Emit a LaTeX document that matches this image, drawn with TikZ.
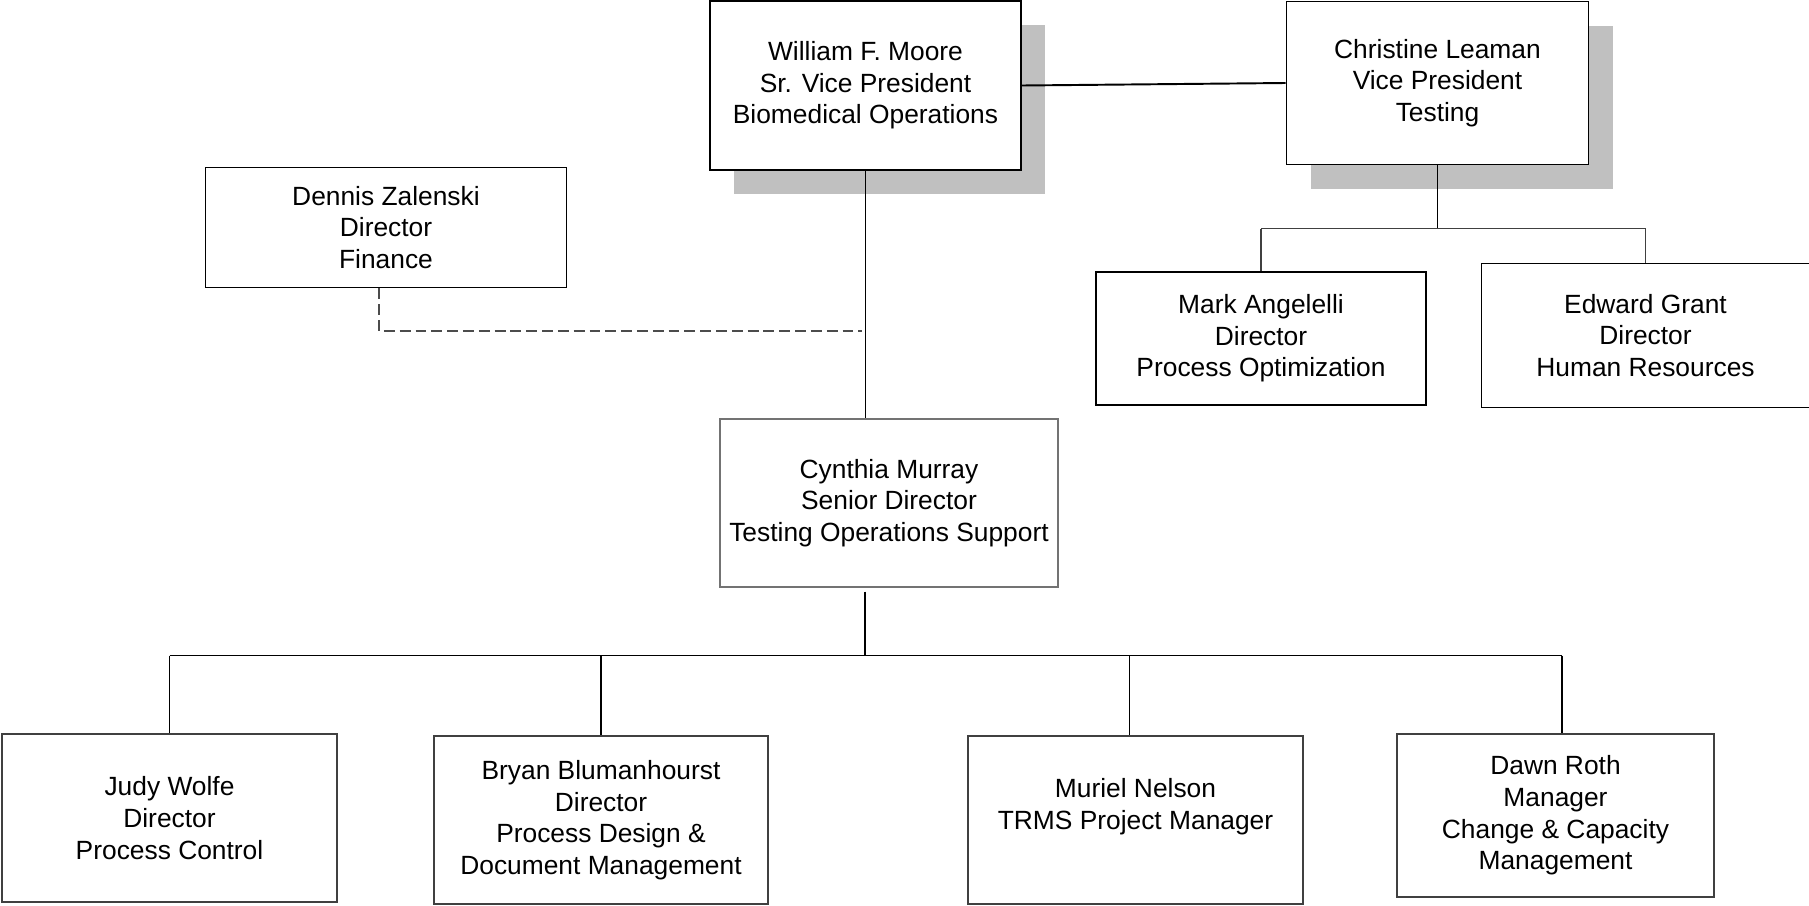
\documentclass[tikz,border=0pt]{standalone}
\usepackage{fontspec}
\setmainfont{Liberation Sans}
\usetikzlibrary{shadows}
\definecolor{shadegray}{RGB}{192,192,192}

\begin{document}
\begin{tikzpicture}
    [font=\fontsize{7.5pt}{9pt}\selectfont,
    chief/.style={rectangle,draw=black,line width=0.55pt,fill=white,align=center,inner sep=0pt,
      drop shadow={shadow xshift=0.24cm,shadow yshift=-0.24cm,fill=shadegray,opacity=1}},
    head/.style={rectangle,draw=black,line width=0.55pt,fill=white,align=center,inner sep=0pt},
    staff/.style={rectangle,draw=black!75,line width=0.4pt,fill=white,align=center,inner sep=0pt},
    link/.style={draw=black,line width=0.55pt},
    drop/.style={draw=black,line width=0.45pt},
    twig/.style={draw=black!75,line width=0.3pt},
    advise/.style={draw=black!70,line width=0.35pt,dash pattern=on 3.1pt off 1.4pt}]
    \useasboundingbox[fill=white] (0,0) rectangle (18.09,-9.06);
    % top level
    \node (moore) at (8.655,-0.855) [chief,minimum width=3.11cm,minimum height=1.69cm]
      {William F. Moore\\Sr. Vice President\\Biomedical Operations};
    \node (leaman) at (14.375,-0.83) [chief,minimum width=3.02cm,minimum height=1.63cm]
      {Christine Leaman\\Vice President\\Testing};
    \node (zalenski) at (3.86,-2.275) [head,minimum width=3.61cm,minimum height=1.20cm]
      {Dennis Zalenski\\Director\\Finance};
    \node (angelelli) at (12.61,-3.385) [head,minimum width=3.30cm,minimum height=1.33cm]
      {Mark Angelelli\\Director\\Process Optimization};
    \node (grant) at (16.455,-3.355) [head,minimum width=3.28cm,minimum height=1.44cm]
      {Edward Grant\\Director\\Human Resources};
    % middle
    \node (murray) at (8.89,-5.03) [staff,draw=black!55,minimum width=3.38cm,minimum height=1.68cm]
      {Cynthia Murray\\Senior Director\\Testing Operations Support};
    % bottom row
    \node (wolfe) at (1.695,-8.18) [staff,minimum width=3.35cm,minimum height=1.68cm]
      {Judy Wolfe\\Director\\Process Control};
    \node (blum) at (6.01,-8.20) [staff,minimum width=3.34cm,minimum height=1.68cm]
      {Bryan Blumanhourst\\Director\\Process Design \&\\Document Management};
    \node (nelson) at (11.355,-8.20) [staff,minimum width=3.35cm,minimum height=1.68cm]
      {Muriel Nelson\\TRMS Project Manager\\\mbox{}};
    \node (roth) at (15.555,-8.155) [staff,minimum width=3.17cm,minimum height=1.63cm]
      {Dawn Roth\\Manager\\Change \& Capacity\\Management};

    \draw[link] (moore.east) -- (leaman.west);
    \draw[link] (moore.south) -- (moore.south |- murray.north);
    \coordinate (tap) at (8.62,-3.31);
    \draw[advise] ([xshift=-0.07cm]zalenski.south) |- (tap);

    \coordinate (fork) at (14.37,-2.285);
    \draw[link] (leaman.south) -- (leaman.south |- fork);
    \draw[twig] (angelelli.north |- fork) -- (grant.north |- fork);
    \draw[twig] (angelelli.north |- fork) -- (angelelli.north);
    \draw[twig] (grant.north |- fork) -- (grant.north);

    \coordinate (split) at (8.65,-6.555);
    \coordinate (nelsontop) at ([xshift=-0.06cm]nelson.north);
    \coordinate (rothtop) at ([xshift=0.065cm]roth.north);
    \draw[link] ([yshift=-0.04cm]split |- murray.south) -- (split);
    \draw[link] (wolfe.north |- split) -- (rothtop |- split);
    \draw[drop] (wolfe.north |- split) -- (wolfe.north);
    \draw[drop] (blum.north |- split) -- (blum.north);
    \draw[drop] (nelsontop |- split) -- (nelsontop);
    \draw[drop] (rothtop |- split) -- (rothtop);
\end{tikzpicture}
\end{document}
